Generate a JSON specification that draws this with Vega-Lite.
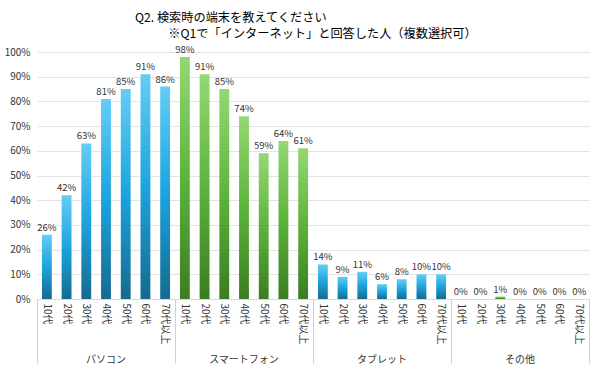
{
  "$schema": "https://vega.github.io/schema/vega-lite/v6.json",
  "width": 552,
  "height": 247,
  "autosize": {"type": "none"},
  "padding": {"left": 37, "top": 52, "right": 11, "bottom": 75},
  "background": "white",
  "config": {
    "font": "Noto Sans CJK JP",
    "view": {"stroke": null},
    "axis": {"labelFont": "Noto Sans CJK JP"}
  },
  "title": {
    "text": ["Q2. 検索時の端末を教えてください", "\u2800　　※Q1で「インターネット」と回答した人（複数選択可）"],
    "anchor": "start",
    "frame": "group",
    "dx": 98,
    "fontSize": 12.2,
    "fontWeight": "normal",
    "color": "#000000",
    "lineHeight": 16.5,
    "offset": 4.5
  },
  "data": {
    "values": [
      {"group": "パソコン", "age": "10代", "key": "パソコン・10代", "share": 0.26},
      {"group": "パソコン", "age": "20代", "key": "パソコン・20代", "share": 0.42},
      {"group": "パソコン", "age": "30代", "key": "パソコン・30代", "share": 0.63},
      {"group": "パソコン", "age": "40代", "key": "パソコン・40代", "share": 0.81},
      {"group": "パソコン", "age": "50代", "key": "パソコン・50代", "share": 0.85},
      {"group": "パソコン", "age": "60代", "key": "パソコン・60代", "share": 0.91},
      {"group": "パソコン", "age": "70代以上", "key": "パソコン・70代以上", "share": 0.86},
      {"group": "スマートフォン", "age": "10代", "key": "スマートフォン・10代", "share": 0.98},
      {"group": "スマートフォン", "age": "20代", "key": "スマートフォン・20代", "share": 0.91},
      {"group": "スマートフォン", "age": "30代", "key": "スマートフォン・30代", "share": 0.85},
      {"group": "スマートフォン", "age": "40代", "key": "スマートフォン・40代", "share": 0.74},
      {"group": "スマートフォン", "age": "50代", "key": "スマートフォン・50代", "share": 0.59},
      {"group": "スマートフォン", "age": "60代", "key": "スマートフォン・60代", "share": 0.64},
      {"group": "スマートフォン", "age": "70代以上", "key": "スマートフォン・70代以上", "share": 0.61},
      {"group": "タブレット", "age": "10代", "key": "タブレット・10代", "share": 0.14},
      {"group": "タブレット", "age": "20代", "key": "タブレット・20代", "share": 0.09},
      {"group": "タブレット", "age": "30代", "key": "タブレット・30代", "share": 0.11},
      {"group": "タブレット", "age": "40代", "key": "タブレット・40代", "share": 0.06},
      {"group": "タブレット", "age": "50代", "key": "タブレット・50代", "share": 0.08},
      {"group": "タブレット", "age": "60代", "key": "タブレット・60代", "share": 0.10},
      {"group": "タブレット", "age": "70代以上", "key": "タブレット・70代以上", "share": 0.10},
      {"group": "その他", "age": "10代", "key": "その他・10代", "share": 0.0},
      {"group": "その他", "age": "20代", "key": "その他・20代", "share": 0.0},
      {"group": "その他", "age": "30代", "key": "その他・30代", "share": 0.01},
      {"group": "その他", "age": "40代", "key": "その他・40代", "share": 0.0},
      {"group": "その他", "age": "50代", "key": "その他・50代", "share": 0.0},
      {"group": "その他", "age": "60代", "key": "その他・60代", "share": 0.0},
      {"group": "その他", "age": "70代以上", "key": "その他・70代以上", "share": 0.0}
    ]
  },
  "layer": [
    {
      "encoding": {
        "x": {
          "field": "key",
          "type": "nominal",
          "scale": {
            "type": "band",
            "paddingInner": 0.5,
            "paddingOuter": 0.25,
            "domain": [
              "パソコン・10代", "パソコン・20代", "パソコン・30代", "パソコン・40代", "パソコン・50代", "パソコン・60代", "パソコン・70代以上",
              "スマートフォン・10代", "スマートフォン・20代", "スマートフォン・30代", "スマートフォン・40代", "スマートフォン・50代", "スマートフォン・60代", "スマートフォン・70代以上",
              "タブレット・10代", "タブレット・20代", "タブレット・30代", "タブレット・40代", "タブレット・50代", "タブレット・60代", "タブレット・70代以上",
              "その他・10代", "その他・20代", "その他・30代", "その他・40代", "その他・50代", "その他・60代", "その他・70代以上"
            ]
          },
          "axis": {
            "orient": "bottom",
            "title": null,
            "labelAngle": 90,
            "labelAlign": "left",
            "labelBaseline": "middle",
            "labelPadding": 4,
            "ticks": false,
            "domain": true,
            "domainColor": "#d9d9d9",
            "labelExpr": "split(datum.label, '・')[1]",
            "labelFontSize": 10,
            "labelColor": "#333333"
          }
        },
        "y": {
          "field": "share",
          "type": "quantitative",
          "scale": {"domain": [0, 1]},
          "axis": {
            "title": null,
            "format": ".0%",
            "values": [0, 0.1, 0.2, 0.3, 0.4, 0.5, 0.6, 0.7, 0.8, 0.9, 1],
            "domain": false,
            "ticks": false,
            "labelPadding": 7,
            "gridColor": "#e3e3e3",
            "labelFontSize": 10,
            "labelColor": "#333333"
          }
        }
      },
      "layer": [
        {
          "transform": [{"filter": {"field": "group", "oneOf": ["パソコン", "タブレット"]}}],
          "mark": {
            "type": "bar",
            "fill": {
              "gradient": "linear", "x1": 0, "y1": 0, "x2": 0, "y2": 1,
              "stops": [
                {"offset": 0, "color": "#64CDF5"},
                {"offset": 0.5, "color": "#1CA4DD"},
                {"offset": 1, "color": "#156A90"}
              ]
            }
          }
        },
        {
          "transform": [{"filter": {"field": "group", "oneOf": ["スマートフォン", "その他"]}}],
          "mark": {
            "type": "bar",
            "fill": {
              "gradient": "linear", "x1": 0, "y1": 0, "x2": 0, "y2": 1,
              "stops": [
                {"offset": 0, "color": "#94D873"},
                {"offset": 0.5, "color": "#5DB43C"},
                {"offset": 1, "color": "#3A7D22"}
              ]
            }
          }
        },
        {
          "mark": {"type": "text", "baseline": "bottom", "dy": -2, "fontSize": 9.5, "color": "#333333"},
          "encoding": {"text": {"field": "share", "type": "quantitative", "format": ".0%"}}
        }
      ]
    },
    {
      "mark": {"type": "point", "opacity": 0},
      "encoding": {
        "x": {
          "field": "group",
          "type": "nominal",
          "sort": null,
          "scale": {"type": "band", "domain": ["パソコン", "スマートフォン", "タブレット", "その他"], "paddingInner": 0, "paddingOuter": 0},
          "axis": {
            "orient": "bottom",
            "title": null,
            "domain": false,
            "grid": false,
            "ticks": true,
            "tickSize": 64,
            "tickColor": "#d0d0d0",
            "bandPosition": 1,
            "tickExtra": true,
            "labelPadding": -9,
            "labelAngle": 0,
            "labelFontSize": 10,
            "labelColor": "#333333"
          }
        }
      }
    }
  ],
  "resolve": {"scale": {"x": "independent"}}
}
